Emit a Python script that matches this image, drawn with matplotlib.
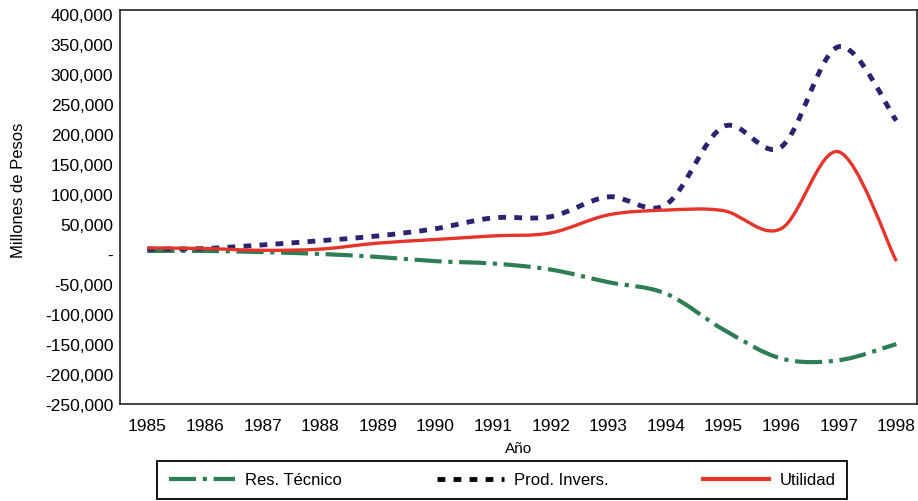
import numpy as np
import matplotlib
matplotlib.use("Agg")
import matplotlib.pyplot as plt
from matplotlib.path import Path
from matplotlib.patches import PathPatch
from matplotlib.lines import Line2D
from matplotlib.ticker import FuncFormatter

plt.rcParams['font.family'] = ['Liberation Sans', 'DejaVu Sans']

# datos (millones de pesos)
years = [1985, 1986, 1987, 1988, 1989, 1990, 1991, 1992, 1993, 1994, 1995, 1996, 1997, 1998]
res_tecnico = [5000, 5000, 3000, 0, -5000, -12000, -16000, -26000, -47000, -66000,
               -126000, -174000, -177000, -150000]
prod_invers = [8000, 9000, 15000, 22000, 30000, 42000, 60000, 62000, 95000, 82000,
               212000, 178000, 345000, 222000]
utilidad = [10000, 9000, 6000, 8000, 18000, 24000, 30000, 35000, 65000, 73000,
            72000, 42000, 170000, -12000]


def smooth_path(x, y):
    # curva suavizada tipo Excel (Bezier cubica entre puntos)
    x = np.asarray(x, float)
    y = np.asarray(y, float)
    n = len(x)
    verts = [(x[0], y[0])]
    codes = [Path.MOVETO]
    for i in range(n - 1):
        i0 = max(i - 1, 0)
        i3 = min(i + 2, n - 1)
        c1 = (x[i] + (x[i + 1] - x[i0]) / 6, y[i] + (y[i + 1] - y[i0]) / 6)
        c2 = (x[i + 1] - (x[i3] - x[i]) / 6, y[i + 1] - (y[i3] - y[i]) / 6)
        verts += [c1, c2, (x[i + 1], y[i + 1])]
        codes += [Path.CURVE4] * 3
    return Path(verts, codes)


fig = plt.figure(figsize=(9.18, 5.02), dpi=100)
ax = fig.add_axes([0.131, 0.193, 0.868, 0.785])

green = '#2e7d54'
navy = '#2a2470'
red = '#e5352b'

series = [
    (res_tecnico, green, dict(linewidth=3.0, linestyle=(0, (6.5, 1.6, 1.0, 1.6)))),
    (prod_invers, navy, dict(linewidth=3.5, linestyle=(0, (1.6, 1.7)))),
    (utilidad, red, dict(linewidth=2.4, linestyle='-')),
]
for vals, col, st in series:
    patch = PathPatch(smooth_path(years, vals), facecolor='none', edgecolor=col, **st)
    ax.add_patch(patch)

ax.set_xlim(1984.53, 1998.36)
ax.set_ylim(-250000, 406000)
ax.set_xticks(years)
ax.set_yticks(np.arange(-250000, 400001, 50000))


def fmt(v, pos):
    if v == 0:
        return '-'
    return f"{int(v):,}"


ax.yaxis.set_major_formatter(FuncFormatter(fmt))
ax.tick_params(axis='both', length=0, labelsize=12.5)
ax.tick_params(axis='x', pad=10)
ax.tick_params(axis='y', pad=5)
for s in ax.spines.values():
    s.set_linewidth(1.2)
    s.set_color('#222222')

ax.set_xlabel('Año', fontsize=11, labelpad=6)
fig.text(0.02, 1 - 190 / 502, 'Millones de Pesos', rotation=90, fontsize=12,
         ha='center', va='center')

handles = [
    Line2D([], [], color=green, linewidth=3.0, linestyle=(0, (6.5, 1.6, 1.0, 1.6))),
    Line2D([], [], color='black', linewidth=3.5, linestyle=(0, (1.6, 1.7))),
    Line2D([], [], color=red, linewidth=3.0),
]
leg = fig.legend(handles, ['Res. Técnico', 'Prod. Invers.', 'Utilidad'],
                 loc='lower left', bbox_to_anchor=(157 / 918, 2 / 502, 690 / 918, 35 / 502),
                 mode='expand', ncol=3, fontsize=12, handlelength=4.0, borderpad=0.7,
                 fancybox=False, framealpha=1, borderaxespad=0, handletextpad=0.6)
leg.get_frame().set_edgecolor('black')
leg.get_frame().set_linewidth(1.3)

fig.savefig('out.png', dpi=100)
plt.close()
